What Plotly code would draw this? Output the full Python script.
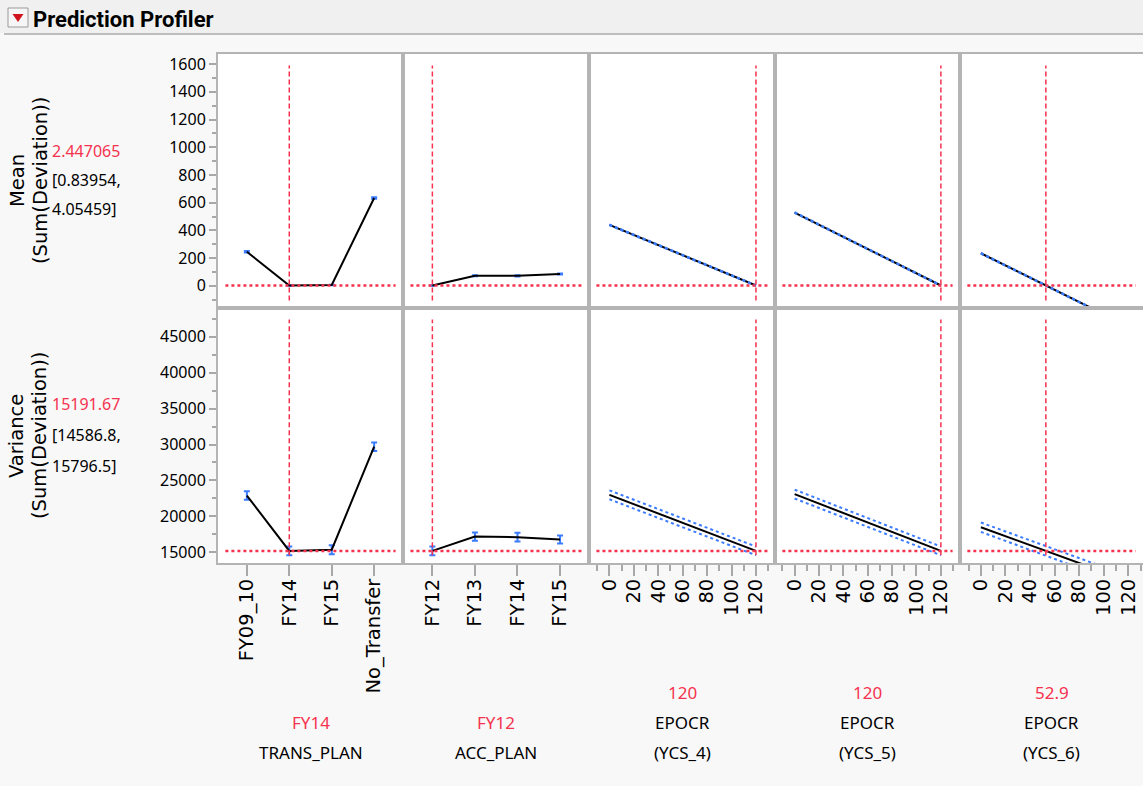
import plotly.graph_objects as go

# ---------------- data ----------------
trans_cats = ["FY09_10", "FY14", "FY15", "No_Transfer"]
trans_mean = [246, 2.447065, 6, 634]
trans_mean_err = [5, 1.6, 2, 5]
trans_var = [22900, 15191.67, 15350, 29700]
trans_var_err = [600, 605, 620, 600]

acc_cats = ["FY12", "FY13", "FY14", "FY15"]
acc_mean = [2.447065, 73, 72, 85]
acc_mean_err = [1.6, 4, 4, 4]
acc_var = [15191.67, 17180, 17100, 16780]
acc_var_err = [605, 560, 600, 560]

epocr_x = [0, 120]
ycs4_mean = [440, 2.447065]
ycs5_mean = [529, 2.447065]
ycs6_mean = [235, -292.5]
mean_ci = [3, 1.6]
ycs4_var = [23000, 15191.67]
ycs5_var = [23100, 15191.67]
ycs6_var = [18490, 11008]
ycs4_var_ci = [620, 605]
ycs5_var_ci = [620, 605]
ycs6_var_ci = [650, 700]

cur_trans = "FY14"
cur_acc = "FY12"
cur_ycs = [120, 120, 52.9]
cur_mean = 2.447065
cur_mean_ci = ["0.83954", "4.05459"]
cur_var = 15191.67
cur_var_ci = ["14586.8", "15796.5"]

factor_names = [["TRANS_PLAN"], ["ACC_PLAN"], ["EPOCR", "(YCS_4)"], ["EPOCR", "(YCS_5)"], ["EPOCR", "(YCS_6)"]]
factor_values = ["FY14", "FY12", "120", "120", "52.9"]

# ---------------- style ----------------
W, H = 1143, 786
RED = "#f5334f"
BLUE = "#3b7cff"
BORDER = "#b4b4b4"
TICKC = "#a8a8a8"
col_px = [(218, 403), (403, 589), (589, 775), (775, 960), (960, 1143)]
row_px = [(54, 308), (308, 563)]
x_ranges = [[-0.68, 3.68], [-0.69, 3.68], [-16.7, 135.6], [-16.1, 135.7], [-17, 132]]
y_ranges = [[-160, 1673], [13505, 49010]]


def px(x):
    return x / W


def py(y):
    return 1 - y / H


fig = go.Figure()
layout = dict(width=W, height=H, margin=dict(l=0, r=0, t=0, b=0),
              paper_bgcolor="#f8f8f8", plot_bgcolor="white", showlegend=False)

cur_x = [trans_cats.index(cur_trans), acc_cats.index(cur_acc)] + cur_ycs
shapes = []
annotations = []

for r in range(2):
    for c in range(5):
        n = r * 5 + c + 1
        xa = "xaxis" if n == 1 else f"xaxis{n}"
        ya = "yaxis" if n == 1 else f"yaxis{n}"
        xs = "x" if n == 1 else f"x{n}"
        ys = "y" if n == 1 else f"y{n}"
        xdict = dict(domain=[px(col_px[c][0]), px(col_px[c][1])], anchor=ys,
                     range=x_ranges[c], showgrid=False, zeroline=False,
                     showline=True, linecolor=BORDER, linewidth=2, mirror=True,
                     fixedrange=True)
        if c < 2:
            cats = trans_cats if c == 0 else acc_cats
            xdict.update(type="category", categoryorder="array", categoryarray=cats)
        else:
            xdict.update(type="linear", dtick=20, tick0=0)
        if r == 1:
            xdict.update(ticks="outside", ticklen=11, tickcolor=TICKC, tickwidth=1.5,
                         tickangle=-90, showticklabels=True, ticklabelstandoff=-5,
                         tickfont=dict(family="DejaVu Sans", size=19.5, color="black"))
            if c >= 2:
                xdict.update(minor=dict(dtick=10, ticks="outside", ticklen=6,
                                        tickcolor=TICKC, tickwidth=1.5))
        else:
            xdict.update(ticks="", showticklabels=False)
        ydict = dict(domain=[py(row_px[r][1]), py(row_px[r][0])], anchor=xs,
                     range=y_ranges[r], showgrid=False, zeroline=False,
                     showline=True, linecolor=BORDER, linewidth=2,
                     mirror=(c < 4), fixedrange=True)
        if c == 0:
            if r == 0:
                ydict.update(dtick=200, tick0=0,
                             minor=dict(dtick=100, ticks="outside", ticklen=4,
                                        tickcolor=TICKC, tickwidth=1.5))
            else:
                ydict.update(dtick=5000, tick0=0, tickformat="d",
                             minor=dict(dtick=2500, ticks="outside", ticklen=4,
                                        tickcolor=TICKC, tickwidth=1.5))
            ydict.update(ticks="outside", ticklen=7, tickcolor=TICKC, tickwidth=1.5,
                         tickfont=dict(family="Noto Sans", size=16, color="black"))
        else:
            ydict.update(ticks="", showticklabels=False)
        layout[xa] = xdict
        layout[ya] = ydict

        # crosshairs
        shapes.append(dict(type="line", xref=xs, yref=f"{ys} domain",
                           x0=cur_x[c], x1=cur_x[c], y0=0.03, y1=0.955,
                           line=dict(color=RED, width=1.5, dash="5px,3px")))
        cy = cur_mean if r == 0 else cur_var
        shapes.append(dict(type="line", xref=f"{xs} domain", yref=ys,
                           x0=0.04, x1=0.96, y0=cy, y1=cy,
                           line=dict(color=RED, width=2.5, dash="3px,3px")))

        # traces
        if c < 2:
            cats = trans_cats if c == 0 else acc_cats
            if r == 0:
                yv = trans_mean if c == 0 else acc_mean
                ev = trans_mean_err if c == 0 else acc_mean_err
            else:
                yv = trans_var if c == 0 else acc_var
                ev = trans_var_err if c == 0 else acc_var_err
            fig.add_trace(go.Scatter(x=cats, y=yv, xaxis=xs, yaxis=ys, mode="lines",
                                     line=dict(color="black", width=2),
                                     error_y=dict(type="data", array=ev, visible=True,
                                                  color=BLUE, thickness=2, width=3),
                                     hoverinfo="skip"))
        else:
            k = c - 2
            if r == 0:
                yv = [ycs4_mean, ycs5_mean, ycs6_mean][k]
                ci = mean_ci
            else:
                yv = [ycs4_var, ycs5_var, ycs6_var][k]
                ci = [ycs4_var_ci, ycs5_var_ci, ycs6_var_ci][k]
            fig.add_trace(go.Scatter(x=epocr_x, y=yv, xaxis=xs, yaxis=ys, mode="lines",
                                     line=dict(color="black", width=2), hoverinfo="skip"))
            lo = [v - e for v, e in zip(yv, ci)]
            hi = [v + e for v, e in zip(yv, ci)]
            for band in (lo, hi):
                fig.add_trace(go.Scatter(x=epocr_x, y=band, xaxis=xs, yaxis=ys, mode="lines",
                                         line=dict(color=BLUE, width=2, dash="3px,3px"),
                                         hoverinfo="skip"))

# header
shapes.append(dict(type="rect", xref="paper", yref="paper", x0=0, x1=1, y0=py(33), y1=1,
                   fillcolor="#f0f0f0", line=dict(width=0), layer="below"))
shapes.append(dict(type="line", xref="paper", yref="paper", x0=px(4), x1=1, y0=py(34), y1=py(34),
                   line=dict(color="#bdbdbd", width=2)))
shapes.append(dict(type="rect", xref="paper", yref="paper", x0=px(8), x1=px(28), y0=py(27), y1=py(8),
                   fillcolor="#f6f6f6", line=dict(color="#9a9a9a", width=1)))
shapes.append(dict(type="path", xref="paper", yref="paper",
                   path=f"M {px(12.5)},{py(14)} L {px(23.5)},{py(14)} L {px(18)},{py(22)} Z",
                   fillcolor="#d0141e", line=dict(width=0)))
annotations.append(dict(text="<b>Prediction Profiler</b>", xref="paper", yref="paper",
                        x=px(31), y=py(19), xanchor="left", yanchor="middle", showarrow=False,
                        font=dict(family="Roboto", size=22, color="black")))

# left labels
for lbl, cy_px, vals, step, off in [
        ("Mean", 181, (f"{cur_mean:.6f}", "[" + cur_mean_ci[0] + ",", cur_mean_ci[1] + "]"), 29, -30),
        ("Variance", 436, (f"{cur_var:.2f}", "[" + cur_var_ci[0] + ",", cur_var_ci[1] + "]"), 31, -32)]:
    annotations.append(dict(text=lbl, xref="paper", yref="paper", x=px(17), y=py(cy_px),
                            textangle=-90, showarrow=False, xanchor="center", yanchor="middle",
                            font=dict(family="DejaVu Sans", size=19.5, color="black")))
    annotations.append(dict(text="(Sum(Deviation))", xref="paper", yref="paper", x=px(40), y=py(cy_px),
                            textangle=-90, showarrow=False, xanchor="center", yanchor="middle",
                            font=dict(family="DejaVu Sans", size=19.5, color="black")))
    for i, t in enumerate(vals):
        annotations.append(dict(text=t, xref="paper", yref="paper", x=px(50),
                                y=py(cy_px + off + i * step),
                                showarrow=False, xanchor="left", yanchor="middle",
                                font=dict(family="Noto Sans", size=16, color=RED if i == 0 else "black")))

# bottom factor labels
for c in range(5):
    cx = (col_px[c][0] + col_px[c][1]) / 2
    lines = [(factor_values[c], RED)] + [(t, "black") for t in factor_names[c]]
    y0 = 722 if c < 2 else 692
    for i, (t, colr) in enumerate(lines):
        annotations.append(dict(text=t, xref="paper", yref="paper", x=px(cx), y=py(y0 + 30 * i),
                                showarrow=False, xanchor="center", yanchor="middle",
                                font=dict(family="Noto Sans", size=17, color=colr)))

layout["shapes"] = shapes
layout["annotations"] = annotations
fig.update_layout(**layout)
fig.write_html("out.html")
